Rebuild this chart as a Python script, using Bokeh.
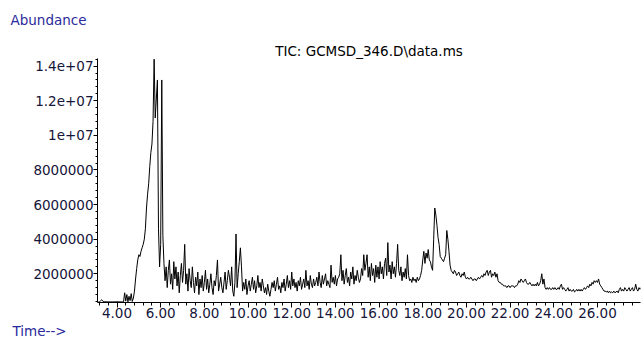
import numpy as np
from bokeh.plotting import figure
from bokeh.models import Range1d, FixedTicker, Title, ColumnDataSource
from bokeh.embed import file_html
from bokeh.resources import INLINE

# ---- data (retention time grid + abundance, units of 1e5) ----
scan_start = 3.15
scan_step = 0.05
abundance_e5 = [
    # 3.15 - 4.10
    3.8, 3.8, 4.4, 5.0, 4.2, 3.8, 3.8, 3.8, 3.8, 3.8, 3.8, 3.8, 3.8, 3.8, 3.8, 3.8, 3.8, 3.8, 3.8, 3.8,
    # 4.15 - 5.10
    3.8, 3.8, 3.8, 3.8, 9.0, 4.2, 8.0, 3.8, 7.0, 4.5, 8.5, 4.0, 6.0, 10, 17, 23, 28, 31, 30, 33,
    # 5.15 - 6.10
    35, 37, 40, 46, 58, 66, 72, 82, 90, 95, 108, 144, 110, 121, 132, 46, 24, 37, 132, 42,
    # 6.15 - 7.10
    26, 16, 24, 12, 22, 28, 14, 20, 11, 27, 17, 24, 13, 21, 9, 19, 26, 15, 22, 37,
    # 7.15 - 8.10
    14, 20, 10, 23, 16, 12, 24, 15, 9, 18, 13, 21, 8, 17, 12, 19, 10, 15, 22, 11,
    # 8.15 - 9.10
    17, 9, 14, 20, 12, 8, 16, 13, 19, 28, 10, 14, 18, 12, 9, 15, 21, 11, 16, 22,
    # 9.15 - 10.10
    18, 13, 24, 10, 7, 15, 43, 12, 20, 27, 35, 24, 10, 15, 11, 17, 8, 13, 16, 10,
    # 10.15 - 11.10
    14, 18, 11, 16, 9, 13, 19, 12, 15, 10, 17, 13, 9, 12, 8, 14, 10, 7, 11, 15,
    # 11.15 - 12.10
    12, 16, 10, 14, 18, 11, 13, 9, 15, 12, 17, 10, 14, 19, 12, 16, 11, 21, 13, 17,
    # 12.15 - 13.10
    12, 15, 10, 16, 13, 18, 11, 14, 17, 12, 22, 13, 16, 11, 19, 14, 12, 17, 13, 15,
    # 13.15 - 14.10
    18, 13, 21, 15, 12, 19, 14, 17, 20, 13, 16, 14, 12, 25, 15, 18, 14, 19, 13, 17,
    # 14.15 - 15.10
    18, 20, 31, 16, 22, 14, 19, 23, 15, 18, 13, 21, 17, 24, 14, 19, 16, 22, 18, 15,
    # 15.15 - 16.10
    17, 23, 19, 31, 22, 26, 31, 18, 24, 16, 26, 19, 23, 15, 25, 18, 24, 17, 27, 20,
    # 16.15 - 17.10
    24, 17, 26, 29, 19, 38, 21, 25, 17, 27, 20, 24, 18, 26, 37, 22, 19, 24, 16, 21,
    # 17.15 - 18.10
    18, 23, 17, 31, 19, 16, 17, 15, 18, 16, 17, 15, 18, 16, 17, 19, 22, 28, 33, 26,
    # 18.15 - 19.10
    32, 29, 34, 28, 27, 24, 22, 40, 58, 54, 48, 41, 37, 30, 29, 28, 27, 29, 31, 45,
    # 19.15 - 20.10
    40, 33, 25, 22, 21, 20, 22, 21, 19, 20, 21, 19, 18, 20, 19, 21, 18, 17, 18, 17,
    # 20.15 - 21.10
    17, 18, 17, 16, 17, 17, 16, 17, 18, 17, 18, 19, 18, 20, 19, 21, 22, 19, 21, 22,
    # 21.15 - 22.10
    18, 20, 19, 21, 18, 20, 16, 15, 15, 14, 14, 13, 13, 13, 12, 13, 13, 12, 13, 13,
    # 22.15 - 23.10
    13, 12, 13, 13, 14, 16, 15, 17, 16, 15, 16, 17, 15, 14, 14, 15, 14, 13, 14, 13,
    # 23.15 - 24.10
    14, 13, 15, 13, 14, 16, 20, 14, 17, 12, 11, 12, 11, 12, 11, 11, 12, 11, 12, 11,
    # 24.15 - 25.10
    11, 12, 11, 13, 14, 11, 12, 11, 10, 11, 12, 10, 11, 10, 10, 11, 9.5, 10, 11, 10,
    # 25.15 - 26.10
    11, 10, 11, 10, 11, 12, 11, 12, 13, 12, 14, 13, 15, 14, 16, 15, 16, 15, 17, 14,
    # 26.15 - 27.10
    13, 12, 11, 10, 10, 9.5, 10, 9, 10, 9, 9.5, 9, 10, 9, 9.5, 10, 9, 11, 12, 10,
    # 27.15 - 28.10
    11, 10, 12, 11, 10, 11, 12, 10, 11, 12, 10, 11, 14, 11, 10, 12, 11, 12, 11, 12,
]

x_ticks = [4, 6, 8, 10, 12, 14, 16, 18, 20, 22, 24, 26]
x_tick_labels = ["4.00", "6.00", "8.00", "10.00", "12.00", "14.00", "16.00",
                 "18.00", "20.00", "22.00", "24.00", "26.00"]
y_ticks = [2000000, 4000000, 6000000, 8000000, 10000000, 12000000, 14000000]
y_tick_labels = ["2000000", "4000000", "6000000", "8000000", "1e+07", "1.2e+07", "1.4e+07"]

title_text = "TIC: GCMSD_346.D\\data.ms"
y_title = "Abundance"
x_title = "Time-->"

# ---- build ----
times = [round(scan_start + scan_step * i, 2) for i in range(len(abundance_e5))]
abundance = [v * 1e5 for v in abundance_e5]
src = ColumnDataSource(data=dict(t=times, a=abundance))

X0, X1 = 3.107, 27.97
Y0, Y1 = 0.34e6, 14.44e6

p = figure(width=642, height=340, x_range=Range1d(X0, X1), y_range=Range1d(Y0, Y1),
           output_backend="svg", toolbar_location=None, title=None,
           min_border_left=97, min_border_right=2, min_border_top=58, min_border_bottom=38)
p.outline_line_color = None
p.xgrid.visible = False
p.ygrid.visible = False
p.background_fill_color = "white"
p.border_fill_color = "white"

p.line("t", "a", source=src, line_color="black", line_width=1)

tick_font = "DejaVu Sans"
label_color = "#15153a"

xa = p.xaxis[0]
xa.ticker = FixedTicker(ticks=x_ticks,
                        minor_ticks=[float(v) for v in np.round(np.arange(3.2, 28.0, 0.4), 2)])
xa.major_label_overrides = {t: s for t, s in zip(x_ticks, x_tick_labels)}
xa.major_tick_in = 0
xa.major_tick_out = 5
xa.minor_tick_in = 0
xa.minor_tick_out = 3
xa.major_label_standoff = 0
xa.major_label_text_font = tick_font
xa.major_label_text_font_size = "13.5px"
xa.major_label_text_color = label_color
xa.axis_line_color = "black"
xa.major_tick_line_color = "black"
xa.minor_tick_line_color = "black"

ya = p.yaxis[0]
ya.ticker = FixedTicker(ticks=y_ticks,
                        minor_ticks=[float(v) for v in np.arange(400000, 14400001, 400000)])
ya.major_label_overrides = {t: s for t, s in zip(y_ticks, y_tick_labels)}
ya.major_tick_in = 0
ya.major_tick_out = 4
ya.minor_tick_in = 0
ya.minor_tick_out = 2
ya.major_label_standoff = 0
ya.major_label_text_font = tick_font
ya.major_label_text_font_size = "13.5px"
ya.major_label_text_color = label_color
ya.axis_line_color = "black"
ya.major_tick_line_color = "black"
ya.minor_tick_line_color = "black"

blue = "#2a2a9c"
# chart title (closest to the frame), then the "Abundance" caption above it
p.add_layout(Title(text=title_text, align="center", vertical_align="bottom", standoff=0,
                   text_font=tick_font, text_font_size="13.5px", text_font_style="normal",
                   text_color="black"), "above")
p.add_layout(Title(text=y_title, align="left", vertical_align="top", standoff=22, offset=-87,
                   text_font=tick_font, text_font_size="13.5px", text_font_style="normal",
                   text_color=blue), "above")
p.add_layout(Title(text=x_title, align="left", vertical_align="bottom", standoff=0, offset=-85,
                   text_font=tick_font, text_font_size="13.5px", text_font_style="normal",
                   text_color=blue), "below")

open("out.html", "w").write(file_html(p, INLINE))
